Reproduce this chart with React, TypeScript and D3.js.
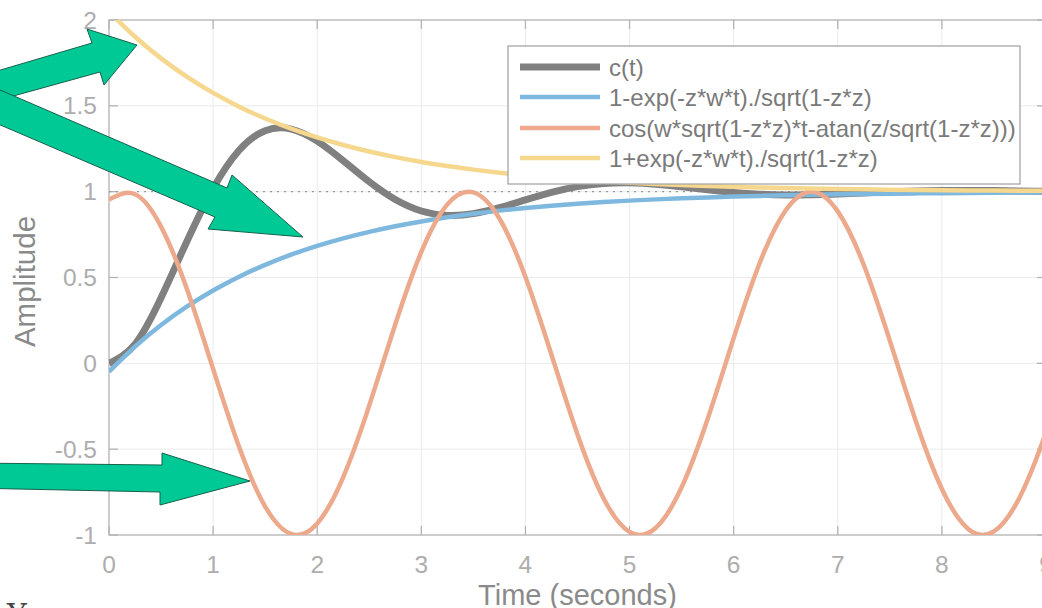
import React from "react";
import * as d3 from "d3";

// Sample times (seconds)
const TIME = [
  0, 0.25, 0.5, 0.75, 1, 1.25, 1.5, 1.75, 2, 2.25, 2.5, 2.75, 3, 3.25, 3.5, 3.75,
  4, 4.25, 4.5, 4.75, 5, 5.25, 5.5, 5.75, 6, 6.25, 6.5, 6.75, 7, 7.25, 7.5, 7.75,
  8, 8.25, 8.5, 8.75, 9, 9.25,
];

// c(t): step response
const STEP_RESPONSE = [
  0.0, 0.1111, 0.3814, 0.7125, 1.0186, 1.2414, 1.3555, 1.3647, 1.2944, 1.1801,
  1.0573, 0.9542, 0.8875, 0.8619, 0.8721, 0.9068, 0.9522, 0.9959, 1.0292, 1.0476,
  1.0513, 1.0431, 1.0279, 1.0108, 0.9958, 0.9856, 0.9811, 0.9817, 0.9861, 0.9923,
  0.9985, 1.0034, 1.0063, 1.0072, 1.0063, 1.0043, 1.0019, 0.9997,
];

// 1-exp(-z*w*t)./sqrt(1-z*z)
const LOWER_ENVELOPE = [
  -0.0483, 0.0977, 0.2234, 0.3316, 0.4247, 0.5048, 0.5738, 0.6332, 0.6843, 0.7282,
  0.7661, 0.7987, 0.8267, 0.8509, 0.8716, 0.8895, 0.9049, 0.9182, 0.9296, 0.9394,
  0.9478, 0.9551, 0.9613, 0.9667, 0.9714, 0.9754, 0.9788, 0.9817, 0.9843, 0.9865,
  0.9884, 0.99, 0.9914, 0.9926, 0.9936, 0.9945, 0.9953, 0.9959,
];

// cos(w*sqrt(1-z*z)*t-atan(z/sqrt(1-z*z)))
const OSCILLATION = [
  0.9539, 0.9852, 0.7965, 0.4301, -0.0324, -0.4876, -0.834, -0.9942, -0.9325, -0.6627,
  -0.2449, 0.2276, 0.6492, 0.9259, 0.996, 0.8437, 0.5031, 0.0502, -0.414, -0.7857,
  -0.982, -0.9591, -0.7222, -0.324, 0.1465, 0.5843, 0.8916, 1.0, 0.8851, 0.5726,
  0.1324, -0.3375, -0.732, -0.9631, -0.9792, -0.7768, -0.4009, 0.0644,
];

// 1+exp(-z*w*t)./sqrt(1-z*z)
const UPPER_ENVELOPE = [
  2.0483, 1.9023, 1.7766, 1.6684, 1.5753, 1.4952, 1.4262, 1.3668, 1.3157, 1.2718,
  1.2339, 1.2013, 1.1733, 1.1491, 1.1284, 1.1105, 1.0951, 1.0818, 1.0704, 1.0606,
  1.0522, 1.0449, 1.0387, 1.0333, 1.0286, 1.0246, 1.0212, 1.0183, 1.0157, 1.0135,
  1.0116, 1.01, 1.0086, 1.0074, 1.0064, 1.0055, 1.0047, 1.0041,
];

const STEADY_STATE = 1;

const X_TICKS = [0, 1, 2, 3, 4, 5, 6, 7, 8, 9];
const Y_TICKS = [-1, -0.5, 0, 0.5, 1, 1.5, 2];
const Y_TICK_LABELS = ["-1", "-0.5", "0", "0.5", "1", "1.5", "2"];

const SERIES_LABELS = [
  "c(t)",
  "1-exp(-z*w*t)./sqrt(1-z*z)",
  "cos(w*sqrt(1-z*z)*t-atan(z/sqrt(1-z*z)))",
  "1+exp(-z*w*t)./sqrt(1-z*z)",
];
const SERIES_COLORS = ["#808080", "#7fb8df", "#eca98b", "#f5d78e"];
const SERIES_WIDTHS = [7, 4.5, 4.5, 4.5];
const SERIES_VALUES = [STEP_RESPONSE, LOWER_ENVELOPE, OSCILLATION, UPPER_ENVELOPE];

const W = 1042;
const H = 608;
const LEFT = 109;
const RIGHT = 1046;
const TOP = 20;
const BOTTOM = 535;

const FONT = "'Liberation Sans', Arial, Helvetica, sans-serif";
const AXIS_COLOR = "#b3b3b3";
const GRID_COLOR = "#ebebeb";
const TICK_TEXT = "#adadad";
const LABEL_TEXT = "#8a8a8a";
const ARROW_FILL = "#00c996";
const ARROW_STROKE = "#17614c";

// Callout arrows pointing at the curves
const ARROWS: [number, number][][] = [
  [[-30, 79], [92, 43], [87, 29], [137, 45], [104, 85], [100, 72], [-30, 108]],
  [[-30, 77], [227, 188], [232, 175], [303, 237], [208, 229], [215, 217], [-30, 112]],
  [[-30, 463], [162, 465], [162, 453], [250, 481], [160, 505], [160, 492], [-30, 488]],
];

export default function App() {
  const x = d3.scaleLinear().domain([0, 9]).range([LEFT, RIGHT]);
  const y = d3.scaleLinear().domain([-1, 2]).range([BOTTOM, TOP]);

  const line = d3
    .line<number>()
    .x((_, i) => x(TIME[i]))
    .y((d) => y(d))
    .curve(d3.curveNatural);

  const tickLen = 9;

  const legendX = 508;
  const legendY = 46;
  const legendW = 512;
  const legendH = 138;
  const legendRows = [67, 97, 128, 158];

  return (
    <svg
      width={W}
      height={H}
      style={{ position: "absolute", left: 0, top: 0, display: "block", background: "#fff" }}
    >
      <defs>
        <clipPath id="plot-clip">
          <rect x={LEFT} y={TOP} width={RIGHT - LEFT} height={BOTTOM - TOP} />
        </clipPath>
      </defs>
      <rect x={0} y={0} width={W} height={H} fill="#fff" />

      {/* grid */}
      <g stroke={GRID_COLOR} strokeWidth={1}>
        {X_TICKS.filter((t) => t > 0).map((t) => (
          <line key={"gx" + t} x1={x(t)} x2={x(t)} y1={TOP} y2={BOTTOM} />
        ))}
        {Y_TICKS.filter((v) => v > -1 && v < 2).map((v) => (
          <line key={"gy" + v} x1={LEFT} x2={RIGHT} y1={y(v)} y2={y(v)} />
        ))}
      </g>

      {/* axes box and inward ticks */}
      <g stroke={AXIS_COLOR} strokeWidth={1.3} fill="none">
        <rect x={LEFT} y={TOP} width={RIGHT - LEFT} height={BOTTOM - TOP} />
        {X_TICKS.map((t) => (
          <g key={"tx" + t}>
            <line x1={x(t)} x2={x(t)} y1={BOTTOM} y2={BOTTOM - tickLen} />
            <line x1={x(t)} x2={x(t)} y1={TOP} y2={TOP + tickLen} />
          </g>
        ))}
        {Y_TICKS.map((v) => (
          <g key={"ty" + v}>
            <line x1={LEFT} x2={LEFT + tickLen} y1={y(v)} y2={y(v)} />
            <line x1={RIGHT} x2={RIGHT - tickLen} y1={y(v)} y2={y(v)} />
          </g>
        ))}
      </g>

      {/* tick labels */}
      <g fontFamily={FONT} fontSize={24.5} fill={TICK_TEXT}>
        {X_TICKS.map((t) => (
          <text key={"lx" + t} x={x(t)} y={573} textAnchor="middle">
            {t}
          </text>
        ))}
        {Y_TICKS.map((v, i) => (
          <text key={"ly" + v} x={97} y={y(v) + 8.5} textAnchor="end">
            {Y_TICK_LABELS[i]}
          </text>
        ))}
      </g>

      {/* axis labels */}
      <text
        x={(LEFT + RIGHT) / 2}
        y={605}
        textAnchor="middle"
        fontFamily={FONT}
        fontSize={29}
        fill={LABEL_TEXT}
      >
        Time (seconds)
      </text>
      <text
        transform={`translate(35, ${(TOP + BOTTOM) / 2 + 4}) rotate(-90)`}
        textAnchor="middle"
        fontFamily={FONT}
        fontSize={29.5}
        fill={LABEL_TEXT}
      >
        Amplitude
      </text>

      {/* curves */}
      <g clipPath="url(#plot-clip)">
        <line
          x1={LEFT}
          x2={RIGHT}
          y1={y(STEADY_STATE)}
          y2={y(STEADY_STATE)}
          stroke="#9a9a9a"
          strokeWidth={1.4}
          strokeDasharray="2 5"
        />
        {SERIES_VALUES.map((vals, i) => (
          <path
            key={"s" + i}
            d={line(vals) || ""}
            fill="none"
            stroke={SERIES_COLORS[i]}
            strokeWidth={SERIES_WIDTHS[i]}
            strokeLinejoin="round"
          />
        ))}
      </g>

      {/* legend */}
      <g>
        <rect
          x={legendX}
          y={legendY}
          width={legendW}
          height={legendH}
          fill="#fff"
          stroke="#a6a6a6"
          strokeWidth={1.3}
        />
        {SERIES_LABELS.map((label, i) => (
          <g key={"lg" + i}>
            <line
              x1={520}
              x2={600}
              y1={legendRows[i]}
              y2={legendRows[i]}
              stroke={SERIES_COLORS[i]}
              strokeWidth={SERIES_WIDTHS[i]}
            />
            <text
              x={609}
              y={legendRows[i] + 8.5}
              fontFamily={FONT}
              fontSize={24}
              fill="#7a7a7a"
            >
              {label}
            </text>
          </g>
        ))}
      </g>

      {/* callout arrows */}
      <g fill={ARROW_FILL} stroke={ARROW_STROKE} strokeWidth={1} strokeLinejoin="miter">
        {ARROWS.map((pts, i) => (
          <polygon key={"a" + i} points={pts.map((p) => p.join(",")).join(" ")} />
        ))}
      </g>

      {/* partial glyph below the chart */}
      <text x={7} y={625} fontFamily="'DejaVu Serif', 'Liberation Serif', serif" fontSize={30} fill="#444">
        Y
      </text>
    </svg>
  );
}
